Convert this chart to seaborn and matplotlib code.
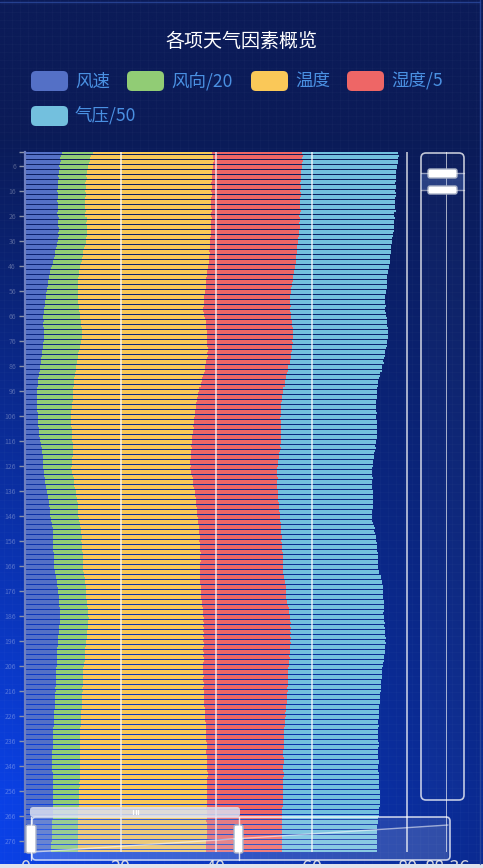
import numpy as np
import pandas as pd
import matplotlib
matplotlib.use("Agg")
import matplotlib.pyplot as plt
from matplotlib.patches import FancyBboxPatch, Rectangle, Polygon
import seaborn as sns

# hourly records, top row first
wind_speed = [
    7.7, 7.6, 7.4, 7.5, 7.3, 7.2, 7.3, 7.1, 7.1, 7.0,
    7.1, 7.0, 6.9, 7.0, 7.0, 6.8, 6.9, 7.0, 6.9, 6.8,
    6.9, 6.9, 6.9, 7.0, 6.8, 6.9, 7.1, 7.0, 6.9, 7.0,
    7.1, 7.2, 7.0, 7.1, 6.9, 6.9, 6.8, 6.6, 6.5, 6.3,
    6.3, 6.2, 6.1, 5.9, 5.8, 5.6, 5.5, 5.3, 5.2, 5.1,
    5.0, 4.9, 4.8, 4.8, 4.7, 4.6, 4.5, 4.4, 4.3, 4.2,
    4.1, 4.1, 4.0, 3.9, 3.9, 3.8, 3.8, 3.9, 3.8, 3.8,
    3.9, 3.9, 4.0, 4.0, 4.0, 3.9, 3.8, 3.8, 3.7, 3.6,
    3.5, 3.5, 3.4, 3.3, 3.3, 3.2, 3.1, 3.1, 3.0, 2.9,
    2.8, 2.8, 2.7, 2.7, 2.6, 2.6, 2.5, 2.6, 2.5, 2.5,
    2.5, 2.6, 2.6, 2.6, 2.7, 2.7, 2.7, 2.8, 2.8, 2.8,
    2.9, 2.9, 2.9, 3.0, 3.1, 3.2, 3.3, 3.4, 3.5, 3.6,
    3.6, 3.7, 3.7, 3.7, 3.8, 3.8, 3.8, 3.9, 3.9, 4.0,
    4.1, 4.1, 4.2, 4.3, 4.4, 4.6, 4.7, 4.8, 4.9, 5.0,
    5.1, 5.1, 5.2, 5.2, 5.3, 5.3, 5.4, 5.5, 5.6, 5.7,
    5.8, 5.8, 5.9, 5.9, 5.9, 5.8, 5.9, 5.9, 5.9, 5.9,
    6.0, 6.0, 6.0, 6.1, 6.1, 6.1, 6.1, 6.2, 6.3, 6.4,
    6.5, 6.6, 6.7, 6.8, 6.9, 6.9, 7.0, 7.1, 7.1, 7.2,
    7.2, 7.2, 7.3, 7.3, 7.3, 7.3, 7.4, 7.3, 7.3, 7.2,
    7.2, 7.1, 7.1, 7.0, 7.0, 6.9, 6.9, 6.9, 6.8, 6.8,
    6.8, 6.7, 6.7, 6.7, 6.6, 6.6, 6.5, 6.5, 6.5, 6.5,
    6.4, 6.4, 6.4, 6.4, 6.3, 6.4, 6.3, 6.3, 6.3, 6.3,
    6.2, 6.2, 6.2, 6.1, 6.1, 6.1, 6.0, 6.0, 6.0, 6.0,
    5.9, 5.9, 5.9, 5.9, 5.8, 5.8, 5.8, 5.8, 5.8, 5.7,
    5.7, 5.7, 5.7, 5.7, 5.7, 5.7, 5.7, 5.7, 5.8, 5.8,
    5.8, 5.8, 5.8, 5.9, 5.9, 5.9, 5.9, 5.9, 5.9, 5.9,
    5.9, 5.9, 5.8, 5.8, 5.8, 5.8, 5.8, 5.7, 5.7, 5.7,
    5.7, 5.7, 5.7, 5.6, 5.6, 5.6, 5.5, 5.5, 5.4, 5.4,
]
wind_dir = [
    6.5, 6.3, 6.2, 6.1, 6.0, 6.0, 5.9, 5.9, 5.9, 5.8,
    5.8, 5.8, 5.7, 5.8, 5.7, 5.7, 5.8, 5.7, 5.6, 5.7,
    5.7, 5.7, 5.7, 5.8, 5.8, 5.7, 5.8, 5.9, 5.8, 5.9,
    5.9, 5.8, 5.9, 5.9, 5.9, 5.9, 5.9, 5.9, 5.9, 5.9,
    5.9, 5.9, 5.9, 6.0, 6.0, 6.0, 6.1, 6.1, 6.1, 6.2,
    6.2, 6.3, 6.3, 6.4, 6.4, 6.5, 6.6, 6.7, 6.8, 6.9,
    7.1, 7.2, 7.3, 7.4, 7.6, 7.7, 7.8, 7.9, 8.0, 8.0,
    8.0, 8.1, 8.0, 8.0, 8.0, 7.9, 7.9, 7.8, 7.8, 7.7,
    7.7, 7.7, 7.6, 7.6, 7.6, 7.5, 7.5, 7.5, 7.5, 7.5,
    7.5, 7.5, 7.5, 7.6, 7.5, 7.5, 7.5, 7.4, 7.5, 7.5,
    7.4, 7.3, 7.2, 7.1, 7.0, 7.0, 6.9, 6.9, 6.9, 6.9,
    6.9, 6.9, 6.9, 6.8, 6.8, 6.7, 6.7, 6.6, 6.6, 6.5,
    6.4, 6.3, 6.2, 6.1, 6.0, 6.0, 5.9, 5.9, 6.0, 6.0,
    6.1, 6.1, 6.1, 6.0, 6.0, 6.0, 6.0, 5.9, 5.9, 5.9,
    5.9, 5.9, 5.9, 5.9, 5.9, 5.9, 5.9, 5.9, 5.9, 5.9,
    5.9, 5.9, 5.9, 6.0, 6.0, 6.0, 6.1, 6.1, 6.1, 6.1,
    6.1, 6.1, 6.1, 6.1, 6.1, 6.1, 6.1, 6.0, 6.0, 6.0,
    6.0, 5.9, 5.9, 5.9, 5.8, 5.8, 5.8, 5.7, 5.7, 5.7,
    5.7, 5.8, 5.8, 5.8, 5.8, 5.9, 5.9, 5.9, 5.9, 5.9,
    5.9, 5.9, 5.9, 5.9, 5.9, 5.9, 5.9, 5.9, 5.8, 5.8,
    5.8, 5.8, 5.8, 5.8, 5.7, 5.7, 5.7, 5.7, 5.7, 5.7,
    5.7, 5.7, 5.7, 5.7, 5.7, 5.7, 5.7, 5.7, 5.7, 5.7,
    5.7, 5.7, 5.7, 5.7, 5.7, 5.7, 5.7, 5.7, 5.7, 5.7,
    5.7, 5.7, 5.7, 5.7, 5.8, 5.8, 5.8, 5.8, 5.8, 5.8,
    5.8, 5.9, 5.9, 5.9, 5.9, 5.9, 5.9, 5.9, 5.8, 5.8,
    5.7, 5.7, 5.6, 5.6, 5.5, 5.5, 5.5, 5.5, 5.4, 5.4,
    5.4, 5.4, 5.4, 5.4, 5.4, 5.4, 5.4, 5.4, 5.4, 5.4,
    5.4, 5.4, 5.4, 5.5, 5.5, 5.5, 5.6, 5.6, 5.7, 5.7,
]
temperature = [
    24.9, 25.5, 25.8, 25.9, 26.0, 26.1, 26.1, 26.2, 26.2, 26.3,
    26.2, 26.3, 26.4, 26.3, 26.4, 26.5, 26.4, 26.4, 26.5, 26.4,
    26.4, 26.4, 26.4, 26.3, 26.4, 26.3, 26.2, 26.1, 26.2, 26.1,
    26.0, 26.0, 26.1, 26.0, 26.0, 26.0, 26.1, 26.2, 26.3, 26.4,
    26.5, 26.5, 26.6, 26.6, 26.7, 26.7, 26.8, 26.8, 26.8, 26.8,
    26.8, 26.8, 26.7, 26.7, 26.7, 26.6, 26.5, 26.4, 26.3, 26.3,
    26.2, 26.1, 26.0, 26.0, 26.0, 25.9, 26.0, 26.0, 26.0, 26.0,
    26.1, 26.1, 26.1, 26.2, 26.2, 26.3, 26.5, 26.6, 26.8, 27.0,
    27.0, 27.1, 27.1, 27.0, 27.1, 27.0, 27.0, 27.0, 26.9, 26.8,
    26.8, 26.7, 26.6, 26.5, 26.4, 26.3, 26.3, 26.2, 26.1, 26.0,
    26.0, 26.0, 25.9, 25.9, 25.9, 25.8, 25.8, 25.7, 25.6, 25.5,
    25.5, 25.4, 25.3, 25.2, 25.1, 25.0, 24.9, 24.8, 24.8, 24.7,
    24.7, 24.7, 24.8, 24.8, 24.8, 24.9, 24.9, 24.9, 24.9, 24.9,
    24.9, 24.9, 24.9, 24.9, 24.9, 24.9, 24.9, 24.9, 24.9, 24.9,
    24.9, 24.9, 24.9, 24.9, 24.9, 24.9, 24.9, 24.8, 24.8, 24.8,
    24.8, 24.7, 24.7, 24.7, 24.7, 24.7, 24.7, 24.7, 24.7, 24.7,
    24.7, 24.6, 24.6, 24.6, 24.5, 24.5, 24.5, 24.4, 24.3, 24.3,
    24.2, 24.2, 24.1, 24.1, 24.1, 24.1, 24.1, 24.1, 24.1, 24.1,
    24.1, 24.1, 24.1, 24.1, 24.1, 24.1, 24.1, 24.1, 24.2, 24.2,
    24.3, 24.3, 24.4, 24.4, 24.5, 24.5, 24.6, 24.6, 24.7, 24.7,
    24.8, 24.8, 24.9, 24.9, 25.0, 25.0, 25.1, 25.1, 25.1, 25.2,
    25.2, 25.2, 25.3, 25.3, 25.3, 25.4, 25.4, 25.4, 25.5, 25.5,
    25.6, 25.6, 25.7, 25.8, 25.8, 25.9, 26.0, 26.0, 26.1, 26.2,
    26.2, 26.3, 26.3, 26.4, 26.4, 26.4, 26.5, 26.5, 26.5, 26.5,
    26.5, 26.5, 26.6, 26.6, 26.6, 26.6, 26.6, 26.6, 26.7, 26.7,
    26.7, 26.7, 26.7, 26.7, 26.7, 26.8, 26.8, 26.8, 26.8, 26.8,
    26.8, 26.8, 26.8, 26.9, 26.9, 26.9, 26.9, 26.9, 27.0, 27.0,
    27.0, 27.0, 27.0, 27.0, 27.0, 26.9, 26.9, 26.9, 26.8, 26.8,
]
humidity = [
    18.8, 18.8, 18.7, 18.7, 18.7, 18.6, 18.6, 18.6, 18.6, 18.6,
    18.6, 18.6, 18.6, 18.6, 18.6, 18.6, 18.6, 18.6, 18.6, 18.6,
    18.6, 18.6, 18.6, 18.6, 18.5, 18.5, 18.5, 18.5, 18.5, 18.5,
    18.5, 18.4, 18.4, 18.4, 18.4, 18.4, 18.4, 18.3, 18.3, 18.3,
    18.3, 18.2, 18.2, 18.2, 18.2, 18.2, 18.2, 18.2, 18.2, 18.1,
    18.1, 18.1, 18.1, 18.0, 18.0, 18.0, 18.0, 18.0, 18.1, 18.1,
    18.1, 18.2, 18.2, 18.2, 18.2, 18.2, 18.2, 18.2, 18.2, 18.2,
    18.1, 18.1, 18.1, 18.0, 18.0, 17.9, 17.9, 17.8, 17.7, 17.6,
    17.6, 17.5, 17.5, 17.5, 17.4, 17.4, 17.4, 17.4, 17.4, 17.5,
    17.5, 17.5, 17.6, 17.6, 17.6, 17.7, 17.7, 17.7, 17.8, 17.8,
    17.8, 17.8, 17.9, 17.9, 18.0, 18.0, 18.0, 18.1, 18.2, 18.3,
    18.4, 18.5, 18.6, 18.6, 18.6, 18.6, 18.6, 18.6, 18.6, 18.6,
    18.5, 18.5, 18.4, 18.4, 18.3, 18.3, 18.2, 18.1, 18.0, 17.9,
    17.8, 17.7, 17.6, 17.5, 17.5, 17.4, 17.3, 17.3, 17.2, 17.2,
    17.2, 17.2, 17.2, 17.2, 17.2, 17.2, 17.2, 17.2, 17.2, 17.2,
    17.2, 17.2, 17.2, 17.2, 17.2, 17.2, 17.2, 17.2, 17.2, 17.2,
    17.2, 17.3, 17.3, 17.3, 17.3, 17.4, 17.4, 17.5, 17.5, 17.6,
    17.6, 17.7, 17.8, 17.8, 17.8, 17.8, 17.8, 17.8, 17.8, 17.9,
    17.9, 17.9, 18.0, 18.0, 18.0, 18.1, 18.1, 18.2, 18.2, 18.2,
    18.2, 18.2, 18.2, 18.2, 18.2, 18.2, 18.2, 18.1, 18.1, 18.1,
    18.0, 18.0, 18.0, 17.9, 17.9, 17.9, 17.8, 17.8, 17.8, 17.7,
    17.7, 17.7, 17.6, 17.6, 17.6, 17.5, 17.5, 17.5, 17.4, 17.4,
    17.3, 17.2, 17.1, 17.0, 16.9, 16.9, 16.8, 16.7, 16.6, 16.5,
    16.5, 16.4, 16.4, 16.3, 16.3, 16.2, 16.2, 16.2, 16.1, 16.1,
    16.1, 16.0, 16.0, 16.0, 16.0, 15.9, 15.9, 15.9, 15.9, 15.9,
    15.9, 15.9, 15.9, 15.9, 15.9, 15.9, 15.9, 15.9, 15.9, 15.9,
    15.9, 15.9, 15.9, 15.8, 15.8, 15.8, 15.8, 15.8, 15.8, 15.7,
    15.7, 15.7, 15.7, 15.7, 15.8, 15.8, 15.8, 15.9, 15.9, 15.9,
]
pressure = [
    20.1, 20.1, 20.0, 20.0, 20.0, 20.0, 19.9, 19.9, 19.9, 19.9,
    19.9, 19.9, 19.9, 19.9, 19.9, 19.9, 19.9, 19.9, 19.9, 19.9,
    19.9, 19.9, 19.9, 19.9, 19.8, 19.8, 19.8, 19.8, 19.8, 19.8,
    19.8, 19.8, 19.7, 19.7, 19.7, 19.7, 19.7, 19.7, 19.7, 19.7,
    19.7, 19.7, 19.7, 19.7, 19.7, 19.7, 19.7, 19.7, 19.7, 19.7,
    19.8, 19.8, 19.8, 19.9, 19.9, 19.9, 19.9, 19.9, 19.9, 19.9,
    19.9, 19.9, 19.9, 19.9, 19.9, 19.9, 19.9, 19.9, 19.9, 19.9,
    19.9, 19.9, 19.9, 19.9, 19.9, 19.8, 19.7, 19.7, 19.6, 19.5,
    19.5, 19.6, 19.6, 19.6, 19.7, 19.7, 19.7, 19.7, 19.6, 19.6,
    19.6, 19.5, 19.5, 19.5, 19.6, 19.6, 19.6, 19.7, 19.7, 19.7,
    19.8, 19.8, 19.9, 19.9, 20.0, 20.0, 20.1, 20.1, 20.1, 20.1,
    20.1, 20.1, 20.1, 20.0, 20.0, 20.0, 20.0, 19.9, 19.9, 19.9,
    19.9, 19.9, 19.9, 19.9, 19.9, 19.9, 19.9, 19.9, 19.9, 19.9,
    19.9, 19.9, 19.9, 19.9, 19.9, 19.9, 19.9, 19.9, 19.9, 19.9,
    19.8, 19.7, 19.6, 19.5, 19.4, 19.3, 19.3, 19.3, 19.4, 19.4,
    19.5, 19.5, 19.5, 19.6, 19.6, 19.7, 19.7, 19.8, 19.8, 19.9,
    19.9, 19.9, 19.9, 19.9, 19.9, 19.9, 19.9, 20.0, 20.1, 20.2,
    20.2, 20.3, 20.3, 20.3, 20.3, 20.3, 20.3, 20.3, 20.3, 20.2,
    20.2, 20.1, 20.0, 19.9, 19.8, 19.8, 19.7, 19.7, 19.7, 19.7,
    19.8, 19.8, 19.8, 19.9, 19.9, 19.9, 19.9, 19.9, 19.9, 19.9,
    19.9, 19.8, 19.8, 19.8, 19.8, 19.7, 19.7, 19.7, 19.7, 19.7,
    19.7, 19.6, 19.6, 19.6, 19.6, 19.6, 19.5, 19.5, 19.5, 19.5,
    19.5, 19.5, 19.5, 19.6, 19.6, 19.6, 19.6, 19.6, 19.6, 19.7,
    19.7, 19.7, 19.7, 19.7, 19.7, 19.7, 19.8, 19.8, 19.8, 19.8,
    19.8, 19.8, 19.8, 19.9, 19.9, 19.9, 19.9, 19.9, 20.0, 20.0,
    20.0, 20.1, 20.1, 20.1, 20.2, 20.2, 20.2, 20.2, 20.3, 20.3,
    20.3, 20.3, 20.3, 20.2, 20.2, 20.2, 20.1, 20.1, 20.1, 20.0,
    20.0, 19.9, 19.9, 19.9, 19.9, 19.9, 19.9, 19.9, 19.9, 19.9,
]

series_names = ["风速", "风向/20", "温度", "湿度/5", "气压/50"]
series_colors = ["#5470c6", "#91cc75", "#fac858", "#ee6666", "#73c0de"]
x_ticks = [0, 20, 40, 60, 80, 88.36]
x_tick_labels = ["0", "20", "40", "60", "80", "88.36"]
row_labels = [str(i + 1) for i in range(len(wind_speed))]

W, H = 483, 868

sns.set_theme(style="white")
plt.rcParams["font.family"] = ["Noto Sans CJK SC", "DejaVu Sans"]

fig = plt.figure(figsize=(W / 100, H / 100), dpi=100)

# background gradient, drawn in pixel coords
bg = fig.add_axes([0, 0, 1, 1], zorder=0)
yy, xx = np.mgrid[0:1:300j, 0:1:150j]
w = np.clip(yy * 1.3 - 0.2, 0, 1) * (1 - 0.6 * xx)
top_c = np.array([11, 27, 88]) / 255
bot_c = np.array([10, 65, 230]) / 255
img = top_c + (bot_c - top_c) * w[..., None]
bg.imshow(img, extent=[0, W, H, 0], aspect="auto", interpolation="bilinear")
# faint texture grid
for gx in np.arange(4, W, 8):
    bg.axvline(gx, color="white", alpha=0.018, lw=0.8)
for gy in np.arange(4, H, 8):
    bg.axhline(gy, color="white", alpha=0.018, lw=0.8)
bg.set_xlim(0, W)
bg.set_ylim(H, 0)
bg.axis("off")

# main chart: 280 rows at 2.5 px each
top_px, bot_px = 152, 852
ax = fig.add_axes([25 / W, 1 - bot_px / H, (447 - 25) / W, (bot_px - top_px) / H], zorder=1)
ax.set_facecolor("none")

df = pd.DataFrame({
    "row": row_labels,
    "风速": wind_speed,
    "风向/20": wind_dir,
    "温度": temperature,
    "湿度/5": humidity,
    "气压/50": pressure,
})
cum = df[series_names].cumsum(axis=1)
cum["row"] = df["row"]

# stacked bars: draw the longest cumulative first
for name, color in reversed(list(zip(series_names, series_colors))):
    sns.barplot(data=cum, x=name, y="row", orient="h", order=row_labels,
                color=color, saturation=1, width=0.64, linewidth=0,
                errorbar=None, ax=ax)

for v in x_ticks[1:]:
    ax.axvline(v, color="white", alpha=0.75, lw=1.2, zorder=5)

ax.set_xlim(0, x_ticks[-1])
ax.set_ylim(len(row_labels) - 0.5, -0.5)
ax.set_xlabel("")
ax.set_ylabel("")
ax.set_xticks(x_ticks, x_tick_labels)
ax.tick_params(axis="x", length=0, pad=5, labelsize=13, labelcolor="#d4d6de")

ytick_pos = [-0.5] + list(range(5, len(row_labels), 10))
ytick_lab = [""] + [row_labels[i] for i in range(5, len(row_labels), 10)]
ax.set_yticks(ytick_pos, ytick_lab)
ax.tick_params(axis="y", left=True, length=4.5, width=1, color="#8d94aa",
               labelsize=5, labelcolor=(1, 1, 1, 0.3), pad=2)
for sp in ["top", "right", "bottom"]:
    ax.spines[sp].set_visible(False)
ax.spines["left"].set_color("#6f7fbf")
ax.spines["left"].set_linewidth(1.6)

# overlay for title, legend and zoom sliders (pixel coords)
ov = fig.add_axes([0, 0, 1, 1], zorder=3)
ov.set_facecolor("none")
ov.set_xlim(0, W)
ov.set_ylim(H, 0)
ov.axis("off")

ov.text(241, 41, "各项天气因素概览", ha="center", va="center",
        color="white", fontsize=13.7)

legend_pos = [(31, 71), (127, 71), (251, 71), (347, 71), (31, 106)]
for (lx, ly), name, color in zip(legend_pos, series_names, series_colors):
    ov.add_patch(FancyBboxPatch((lx, ly), 37, 20, boxstyle="round,pad=0,rounding_size=5",
                                fc=color, ec="none"))
    ov.text(lx + 44, ly + 10.5, name, ha="left", va="center",
            color="#4a90e2", fontsize=12.6)

# horizontal slider
ov.add_patch(FancyBboxPatch((32, 817), 418, 43, boxstyle="round,pad=0,rounding_size=4",
                            fc=(1, 1, 1, 0.10), ec=(1, 1, 1, 0.75), lw=1.2))
ov.add_patch(Rectangle((32, 817), 207, 43, fc=(0.53, 0.69, 1, 0.12), ec="none"))
ov.add_patch(Polygon([(33, 852), (448, 825), (448, 859), (33, 859)], closed=True,
                     fc=(1, 1, 1, 0.07), ec="none"))
ov.plot([33, 448], [852, 825], color=(1, 1, 1, 0.55), lw=1)
ov.add_patch(FancyBboxPatch((30, 807), 210, 10, boxstyle="round,pad=0,rounding_size=3",
                            fc=(0.86, 0.88, 0.94, 0.85), ec="none"))
for gx in [133, 135.5, 138]:
    ov.plot([gx, gx], [810, 814], color="white", lw=0.9)
for hx in [31, 239]:
    ov.plot([hx, hx], [817, 860], color=(1, 1, 1, 0.8), lw=1)
ov.add_patch(FancyBboxPatch((26, 825), 10, 28, boxstyle="round,pad=0,rounding_size=2",
                            fc="white", ec="#aab2c6", lw=1))
ov.add_patch(FancyBboxPatch((234, 825), 9, 28, boxstyle="round,pad=0,rounding_size=2",
                            fc="white", ec="#aab2c6", lw=1))

# vertical slider
ov.add_patch(FancyBboxPatch((421, 153), 43, 647, boxstyle="round,pad=0,rounding_size=5",
                            fc=(1, 1, 1, 0.02), ec=(1, 1, 1, 0.75), lw=1.2))
ov.add_patch(Rectangle((421, 173), 43, 17, fc=(0.53, 0.69, 1, 0.22), ec="none"))
for hy in [173, 190]:
    ov.plot([421, 464], [hy, hy], color=(1, 1, 1, 0.5), lw=1)
ov.add_patch(FancyBboxPatch((428, 169), 29, 9, boxstyle="round,pad=0,rounding_size=2",
                            fc="white", ec="#aab2c6", lw=1))
ov.add_patch(FancyBboxPatch((428, 186), 29, 8, boxstyle="round,pad=0,rounding_size=2",
                            fc="white", ec="#aab2c6", lw=1))

# frame border and page strip at the bottom
ov.plot([0, 480], [1.5, 1.5], color="#2c4a9e", lw=1, alpha=0.8)
ov.plot([479.5, 479.5], [0, 864], color="#2c4a9e", lw=1, alpha=0.8)
ov.add_patch(Rectangle((0, 864), W, 4, fc="#dfe3ec", ec="none"))

fig.savefig("out.png", dpi=100)
